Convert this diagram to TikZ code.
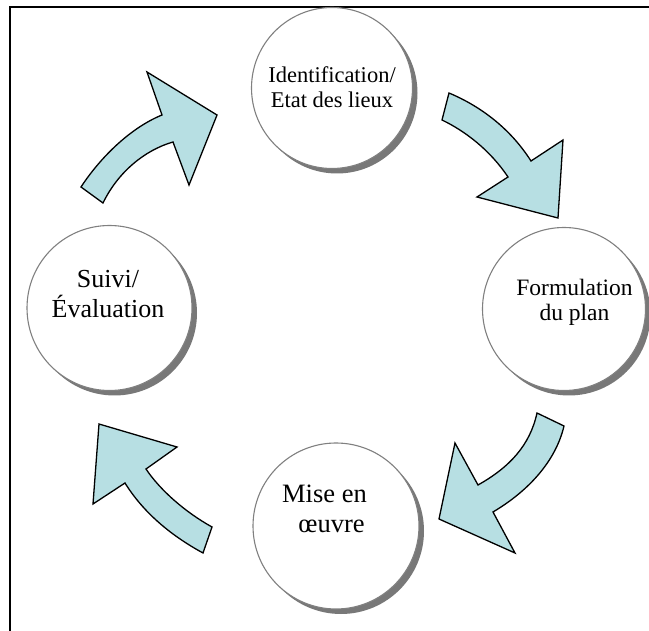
\documentclass[tikz,border=0pt]{standalone}
\usepackage{fontspec}
\setmainfont{Liberation Serif}
\definecolor{arrowfill}{RGB}{183,223,227}
\definecolor{ringgray}{RGB}{128,128,128}
\definecolor{shadowgray}{RGB}{120,120,120}
\begin{document}
\begin{tikzpicture}[x=1pt,y=-1pt,
  stage/.style={circle, draw=ringgray, line width=1.1pt, fill=white, inner sep=0pt},
  stageshadow/.style={fill=shadowgray},
  stagetext/.style={align=center, inner sep=0pt},
  bigarrow/.style={draw=black, line width=1.3pt, fill=arrowfill, line join=miter}]
\useasboundingbox (0,0) rectangle (649,631);
% frame
\draw[line width=1.5pt] (10,640) -- (10,7) -- (660,7);
% shadows of the stages
\fill[stageshadow] (337,93) circle[radius=80.5pt];
\fill[stageshadow] (569,314) circle[radius=81.5pt];
\fill[stageshadow] (341,531) circle[radius=83pt];
\fill[stageshadow] (114.5,313) circle[radius=82.5pt];
% stages
\node[stage, minimum size=161pt] (ident) at (332,88) {};
\node[stage, minimum size=163pt] (form) at (564,309) {};
\node[stage, minimum size=166pt] (mise) at (336,526) {};
\node[stage, minimum size=165pt] (suivi) at (109.5,308) {};
% texts
\node[stagetext, font=\fontsize{22.5}{25}\selectfont] (identtxt) at (332,87) {Identification/\\Etat des lieux};
\node[stagetext, font=\fontsize{23.5}{25}\selectfont] (formtxt) at (574.5,302) {Formulation\\du plan};
\node[stagetext, font=\fontsize{26.5}{30}\selectfont] (misetxt) at (324.5,509) {Mise en\\\hspace*{14pt}œuvre};
\node[stagetext, font=\fontsize{26}{30}\selectfont] (suivitxt) at (108,294) {Suivi/\\Évaluation};
% arrows
\draw[bigarrow] (81,187) .. controls (100,158) and (130,128) .. (162,115)
  -- (147,72) -- (217,115) -- (189,185) -- (173,142)
  .. controls (145,150) and (118,172) .. (103,203) -- cycle;
\draw[bigarrow] (449,93) .. controls (480,106) and (510,128) .. (531,161)
  -- (563,140) -- (558,218) -- (477,197) -- (508,177)
  .. controls (490,150) and (465,131) .. (442,120) -- cycle;
\draw[bigarrow] (564,426) .. controls (556,460) and (530,490) .. (493,512)
  -- (515,553) -- (439,519) -- (455,443) -- (478,485)
  .. controls (510,467) and (530,445) .. (537,413) -- cycle;
\draw[bigarrow] (146,469) .. controls (160,490) and (185,512) .. (212,527)
  -- (203,553) .. controls (170,535) and (143,512) .. (125,483)
  -- (93,504) -- (99,424) -- (177,447) -- cycle;
\end{tikzpicture}
\end{document}
